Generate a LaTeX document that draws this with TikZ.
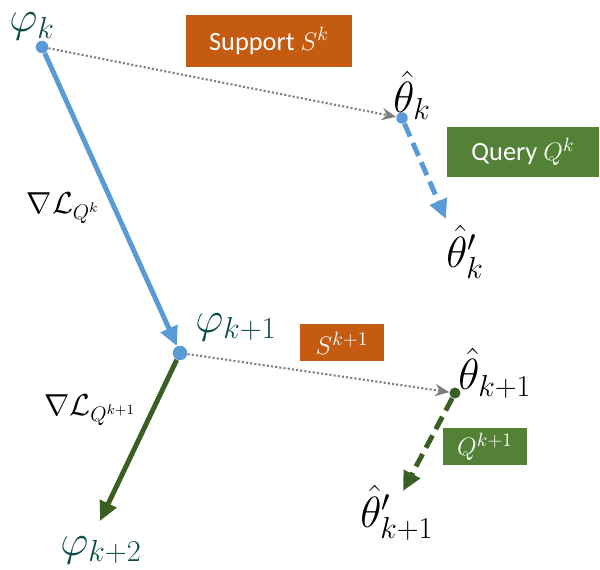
\documentclass[tikz,border=0pt]{standalone}
\usepackage{amsmath,amssymb}
\usepackage{fontspec}
\setsansfont{Carlito}
\usepackage{tikz}
\usetikzlibrary{positioning, arrows.meta}

\definecolor{metablue}{HTML}{5B9BD5}
\definecolor{metagreen}{HTML}{3B5E24}
\definecolor{supportorange}{HTML}{C55A11}
\definecolor{querygreen}{HTML}{538135}
\definecolor{phiteal}{HTML}{0E4B46}

\begin{document}
\begin{tikzpicture}[
        x=0.02cm, y=-0.02cm,
        % Define styles for the meta-learning sketch
        metaarrow/.style={line width=2.8pt, draw=#1, -{Triangle[length=11pt, width=10pt]}},
        taskarrow/.style={line width=2.8pt, draw=#1, dash pattern=on 8pt off 4pt, -{Triangle[length=11pt, width=10pt]}},
        adaptarrow/.style={line width=1.2pt, draw=gray, dash pattern=on 1.2pt off 1.2pt, -{Stealth[length=8pt, width=7pt]}},
        metalabel/.style={text=phiteal, font=\fontsize{27}{32}\selectfont},
        tasklabel/.style={font=\fontsize{23}{28}\selectfont},
        gradlabel/.style={font=\fontsize{17}{20}\selectfont},
        databox/.style={fill=#1, text=white, font=\sffamily\fontsize{15}{18}\selectfont, inner sep=0pt}
    ]
        \useasboundingbox (0,0) rectangle (600,570);

        % --------------------------------------------------------
        % Parameter points
        % --------------------------------------------------------
        \node[circle, fill=metablue, inner sep=0pt, minimum size=0.25cm] (phik) at (42,47) {};
        \node[circle, fill=metablue, inner sep=0pt, minimum size=0.29cm] (phikone) at (180,353) {};
        \node[circle, fill=metablue, inner sep=0pt, minimum size=0.23cm] (thetak) at (402,118) {};
        \node[circle, fill=metagreen, inner sep=0pt, minimum size=0.22cm] (thetakone) at (455,393) {};

        % Free ends of the arrows
        \coordinate (phiktwotip) at (100,521);
        \coordinate (thetakptip) at (446,219);
        \coordinate (thetakoneptip) at (403,491);

        % --------------------------------------------------------
        % Meta updates (outer loop)
        % --------------------------------------------------------
        \draw[metaarrow=metablue] (phik) -- (phikone);
        \draw[metaarrow=metagreen] (phikone) -- (phiktwotip);

        % Adaptation on the support sets
        \draw[adaptarrow] (phik) -- (thetak);
        \draw[adaptarrow] (phikone) -- (thetakone);

        % Evaluation on the query sets
        \draw[taskarrow=metablue] (thetak) -- (thetakptip);
        \draw[taskarrow=metagreen] (thetakone) -- (thetakoneptip);

        % --------------------------------------------------------
        % Labels
        % --------------------------------------------------------
        \node[metalabel, anchor=base west, inner sep=0pt] (phiklabel) at (9,32) {$\varphi_k$};
        \node[metalabel] (phikonelabel) at (236,327) {$\varphi_{k+1}$};
        \node[metalabel] (phiktwolabel) at (101,550) {$\varphi_{k+2}$};

        \node[tasklabel] (thetaklabel) at (412,95) {$\hat{\theta}_k$};
        \node[tasklabel] (thetakplabel) at (465,252) {$\hat{\theta}'_k$};
        \node[tasklabel] (thetakonelabel) at (495,373) {$\hat{\theta}_{k+1}$};
        \node[tasklabel] (thetakoneplabel) at (397,513) {$\hat{\theta}'_{k+1}$};

        \node[gradlabel] (gradk) at (63,208) {$\nabla\mathcal{L}_{Q^k}$};
        \node[gradlabel] (gradkone) at (90,410) {$\nabla\mathcal{L}_{Q^{k+1}}$};

        % Data sets
        \node[databox=supportorange, minimum width=3.32cm, minimum height=1.04cm] (supportk) at (269,41) {Support $S^k$};
        \node[databox=querygreen, minimum width=3.04cm, minimum height=1.0cm] (queryk) at (523,152) {Query $Q^k$};
        \node[databox=supportorange, minimum width=1.7cm, minimum height=0.74cm] (supportkone) at (342,343) {$S^{k+1}$};
        \node[databox=querygreen, minimum width=1.7cm, minimum height=0.74cm] (querykone) at (485,447) {$Q^{k+1}$};

    \end{tikzpicture}
\end{document}
